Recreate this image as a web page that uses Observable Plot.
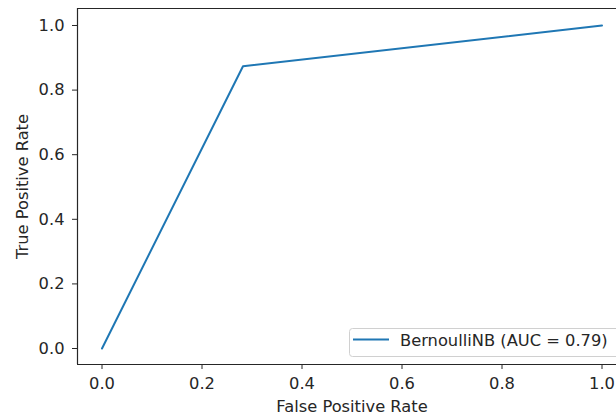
<!DOCTYPE html>
<html>
<head>
<meta charset="utf-8">
<script src="https://cdn.jsdelivr.net/npm/d3@7"></script>
<script src="https://cdn.jsdelivr.net/npm/@observablehq/plot@0.6"></script>
<style>
  html, body { margin: 0; padding: 0; background: #fff; }
  #chart { position: relative; width: 616px; height: 419px; overflow: hidden; }
  svg { overflow: hidden; }
</style>
</head>
<body>
<div id="chart"></div>
<script>
const fpr = [0, 0.282, 1];
const tpr = [0, 0.874, 1];
const seriesName = "BernoulliNB (AUC = 0.79)";
const xTicks = [0, 0.2, 0.4, 0.6, 0.8, 1.0];
const yTicks = [0, 0.2, 0.4, 0.6, 0.8, 1.0];
const xLabel = "False Positive Rate";
const yLabel = "True Positive Rate";

const data = fpr.map((x, i) => ({x, y: tpr[i]}));
const ink = "#262626";
const font = "DejaVu Sans, sans-serif";
const fs = 16.3;

const xDomain = [-0.049, 1.029];
const yDomain = [-0.0495, 1.0526];

const plot = Plot.plot({
  width: 616,
  height: 419,
  marginLeft: 77,
  marginRight: 0,
  marginTop: 8,
  marginBottom: 55,
  style: {fontFamily: font, fontSize: fs + "px", color: ink, background: "#fff"},
  x: {domain: xDomain, ticks: xTicks, tickFormat: d3.format(".1f"), label: null},
  y: {domain: yDomain, ticks: yTicks, tickFormat: d3.format(".1f"), label: null},
  marks: [
    Plot.line(data, {x: "x", y: "y", stroke: "#1f77b4", strokeWidth: 2}),
    Plot.ruleX([xDomain[0]], {stroke: ink, strokeWidth: 1.2}),
    Plot.ruleY([yDomain[0], yDomain[1]], {stroke: ink, strokeWidth: 1.2}),
    Plot.axisX({ticks: xTicks, tickFormat: d3.format(".1f"), tickSize: 5, tickPadding: 8, stroke: ink, fill: ink,
      label: xLabel, labelAnchor: "center", labelArrow: "none", labelOffset: 47}),
    Plot.axisY({ticks: yTicks, tickFormat: d3.format(".1f"), tickSize: 5, tickPadding: 8, stroke: ink, fill: ink,
      label: yLabel, labelAnchor: "center", labelArrow: "none", labelOffset: 61})
  ]
});
document.getElementById("chart").appendChild(plot);

const svg = d3.select(plot);
svg.selectAll("text").style("font-size", fs + "px").style("font-family", font);
// centre the x label on the full (cropped) axes box, as in the source figure
svg.selectAll('g[aria-label="x-axis label"] text').attr("dx", 5);

// legend, drawn inside the SVG
const g = svg.append("g").style("font-family", font).style("font-size", fs + "px").attr("text-anchor", "start");
g.append("rect").attr("x", 349.5).attr("y", 328.5).attr("width", 280).attr("height", 28)
  .attr("rx", 3).attr("fill", "#fff").attr("fill-opacity", 0.8).attr("stroke", "#d0d0d0");
g.append("line").attr("x1", 353).attr("x2", 389).attr("y1", 339.5).attr("y2", 339.5)
  .attr("stroke", "#1f77b4").attr("stroke-width", 2);
g.append("text").attr("x", 400).attr("y", 346).attr("fill", ink).attr("text-anchor", "start").text(seriesName);
</script>
</body>
</html>
